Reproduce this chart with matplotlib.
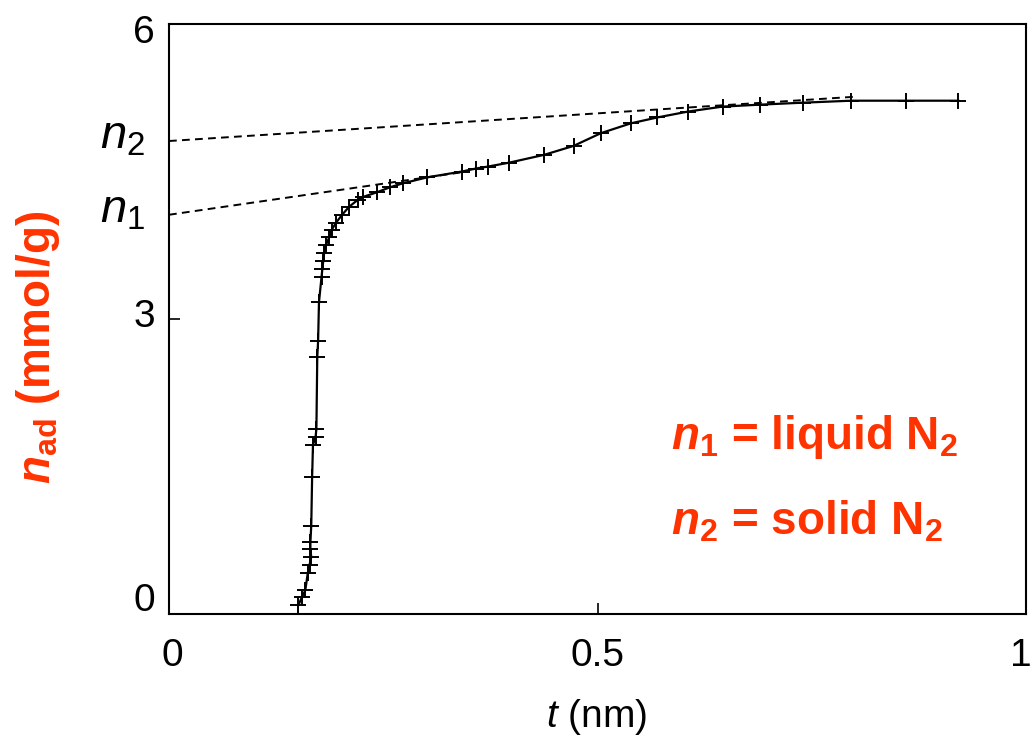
import numpy as np
import matplotlib
matplotlib.use("Agg")
import matplotlib.pyplot as plt
import matplotlib.transforms as mtransforms

plt.rcParams['font.family'] = ['Liberation Sans', 'DejaVu Sans']
plt.rcParams['mathtext.fontset'] = 'custom'
plt.rcParams['mathtext.rm'] = 'Liberation Sans'
plt.rcParams['mathtext.it'] = 'Liberation Sans:italic'
plt.rcParams['mathtext.bf'] = 'Liberation Sans:bold'
plt.rcParams['mathtext.bfit'] = 'Liberation Sans:italic:bold'

# t-plot data
t_nm = [0.151, 0.155, 0.159, 0.162, 0.164, 0.166, 0.165, 0.165, 0.166, 0.167,
        0.168, 0.171, 0.172, 0.173, 0.174, 0.175, 0.178, 0.179, 0.180, 0.181,
        0.183, 0.187, 0.190, 0.195, 0.202, 0.210, 0.220, 0.226, 0.243, 0.258,
        0.273, 0.301, 0.342, 0.358, 0.372, 0.397, 0.438, 0.472, 0.504, 0.539,
        0.570, 0.606, 0.646, 0.690, 0.740, 0.796, 0.860, 0.921]
n_ad = [0.09, 0.17, 0.24, 0.42, 0.50, 0.58, 0.66, 0.73, 0.90, 1.39,
        1.72, 1.80, 1.88, 2.61, 2.78, 3.17, 3.43, 3.51, 3.59, 3.67,
        3.75, 3.83, 3.91, 3.98, 4.06, 4.14, 4.21, 4.24, 4.29, 4.34,
        4.38, 4.44, 4.50, 4.53, 4.55, 4.59, 4.67, 4.76, 4.89, 4.99,
        5.05, 5.11, 5.16, 5.18, 5.20, 5.22, 5.22, 5.22]

# extrapolated linear parts
fit1_t = [0.0, 0.34]
fit1_n = [4.06, 4.49]
fit2_t = [0.0, 0.80]
fit2_n = [4.81, 5.26]

x_ticks = [0, 0.5, 1]
x_ticklabels = ['0', '0.5', '1']
y_ticks = [0, 3, 6]
y_ticklabels = ['0', '3', '6']

red = '#FF3300'

W, H = 1033, 746
fig = plt.figure(figsize=(W / 100, H / 100), dpi=100)
ax = fig.add_axes([169 / W, 1 - 614 / H, (1026 - 169) / W, (614 - 24) / H])

ax.plot(fit1_t, fit1_n, color='k', lw=1.4, ls=(0, (4, 2.7)))
ax.plot(fit2_t, fit2_n, color='k', lw=1.4, ls=(0, (4, 2.7)))
ax.plot(t_nm, n_ad, color='k', lw=1.6, marker='+', ms=11, mew=1.4)

ax.set_xlim(0, 1)
ax.set_ylim(0, 6)
ax.set_xticks(x_ticks)
ax.set_xticklabels(x_ticklabels)
ax.set_yticks(y_ticks)
ax.set_yticklabels(y_ticklabels)
ax.tick_params(direction='in', length=8, width=1.2, labelsize=28, colors='k')
ax.tick_params(axis='x', pad=17)
ax.tick_params(axis='y', pad=10)
for s in ax.spines.values():
    s.set_linewidth(1.5)

# tick labels sit a bit off their ticks in the original
shifts = [17, 6, -5]
for lab, dy in zip(ax.get_yticklabels(), shifts):
    lab.set_transform(lab.get_transform() + mtransforms.ScaledTranslation(0, dy / 100, fig.dpi_scale_trans))
xl = ax.get_xticklabels()
xl[0].set_transform(xl[0].get_transform() + mtransforms.ScaledTranslation(3 / 100, 0, fig.dpi_scale_trans))
xl[-1].set_transform(xl[-1].get_transform() + mtransforms.ScaledTranslation(-5 / 100, 0, fig.dpi_scale_trans))

fig.text(597 / W, 1 - 717 / H, r'$t$ (nm)', fontsize=28, ha='center', va='center')
fig.text(38 / W, 1 - 347 / H, r'$\mathbfit{n}_\mathbf{ad}$ (mmol/g)', fontsize=33,
         fontweight='bold', color=red, rotation=90, ha='center', va='center')

fig.text(100 / W, 1 - 137 / H, r'$n_2$', fontsize=34, ha='left', va='center')
fig.text(100 / W, 1 - 210 / H, r'$n_1$', fontsize=34, ha='left', va='center')

ax.text(0.586, 0.30, r'$\mathbfit{n}_\mathbf{1}$ = liquid N$_\mathbf{2}$', transform=ax.transAxes,
        fontsize=33, fontweight='bold', color=red, ha='left', va='center')
ax.text(0.586, 0.156, r'$\mathbfit{n}_\mathbf{2}$ = solid N$_\mathbf{2}$', transform=ax.transAxes,
        fontsize=33, fontweight='bold', color=red, ha='left', va='center')

fig.savefig('out.png', dpi=100)
